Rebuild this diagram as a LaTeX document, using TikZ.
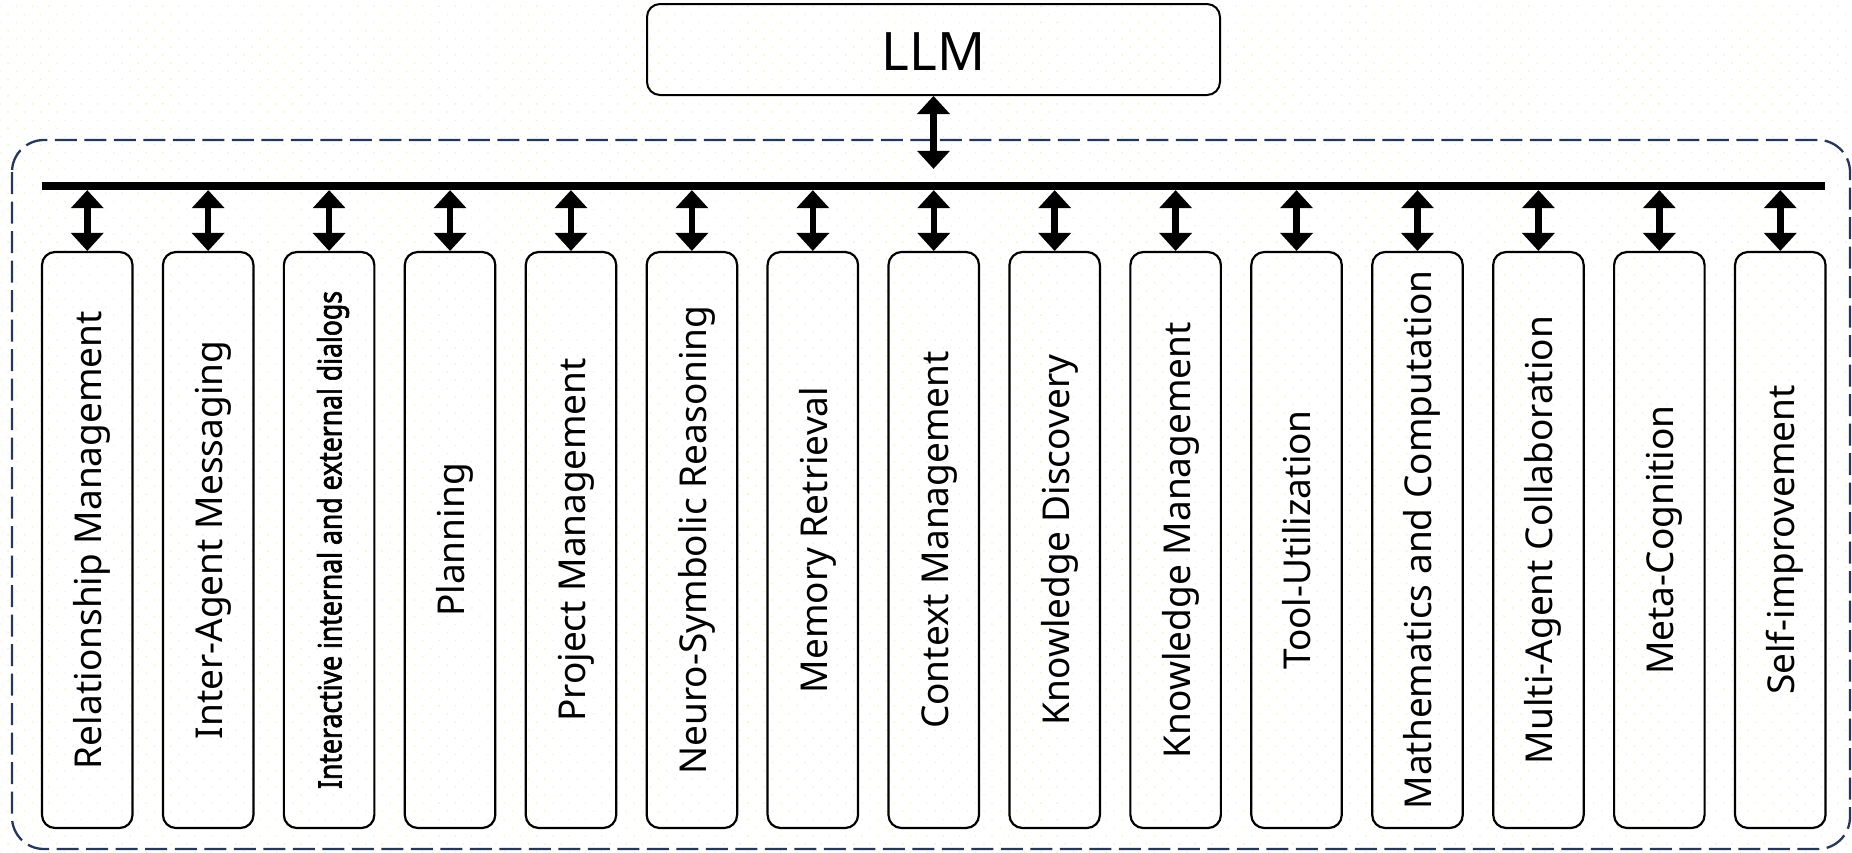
\documentclass[tikz,border=0pt]{standalone}
\usepackage{fontspec}
\setmainfont{Noto Sans}
\newfontfamily\heavylabel{Noto Sans}[FakeBold=2.2]
\usetikzlibrary{arrows.meta,patterns.meta}

\definecolor{framenavy}{RGB}{35,56,96}
\definecolor{dotcol}{RGB}{252,236,192}

\tikzset{
  module/.style={draw=black, line width=2.2pt, rounded corners=13pt,
    minimum width=90.5pt, minimum height=576pt, inner sep=0pt},
  modtext/.style={rotate=90, inner sep=0pt, font=\fontsize{37}{40}\selectfont,
    text height=39.6pt, text depth=10.8pt},
  modtextbold/.style={rotate=90, inner sep=0pt, text height=34pt, text depth=9.4pt},
  llmbox/.style={draw=black, line width=2pt, rounded corners=13pt,
    minimum width=573pt, minimum height=91pt, inner sep=0pt,
    font=\fontsize{53}{56}\selectfont, text height=57pt, text depth=15.5pt},
  busbar/.style={fill=black, minimum width=1783pt, minimum height=8pt, inner sep=0pt},
  link/.style={line width=6.5pt,
    {Triangle[width=33pt,length=18pt,line width=0pt]}-{Triangle[width=33pt,length=18pt,line width=0pt]}},
  agentframe/.style={draw=framenavy, line width=2.3pt, dash pattern=on 22pt off 7.5pt,
    rounded corners=32pt},
}

\begin{document}
\begin{tikzpicture}[x=1pt, y=-1pt]
  % canvas with a faint dotted grid
  \useasboundingbox (0,0) rectangle (1852,852);
  \fill[white] (0,0) rectangle (1852,852);
  \fill[pattern={Dots[distance=11.5pt, angle=45, radius=0.9pt]}, pattern color=dotcol]
    (0,0) rectangle (1852,852);

  % dashed frame around the agent modules
  \draw[agentframe] (12,140) rectangle (1850,849);

  % language model and the shared bus
  \node[llmbox] (llm) at (933.5,49.5) {LLM};
  \node[busbar] (bus) at (933.5,186) {};

  % capability modules
  \foreach \i/\lbl in {0/Relationship Management, 1/Inter-Agent Messaging,
      3/Planning, 4/Project Management, 5/Neuro-Symbolic Reasoning,
      6/Memory Retrieval, 7/Context Management, 8/Knowledge Discovery,
      9/Knowledge Management, 10/Tool-Utilization, 11/Mathematics and Computation,
      12/Multi-Agent Collaboration, 13/Meta-Cognition, 14/Self-improvement} {
    \node[module] (m\i) at ({87.25+120.93*\i},540) {};
    \node[modtext] (t\i) at (m\i.center) {\lbl};
  }
  \node[module] (m2) at ({87.25+120.93*2},540) {};
  \node[modtextbold] (t2) at (m2.center)
    {\resizebox{498pt}{\height}{\fontsize{32}{34}\selectfont\heavylabel Interactive internal and external dialogs}};

  % connectors
  \draw[link, shorten >=13pt] (llm.south) -- (llm.south |- bus.north);
  \foreach \i in {0,...,14} {
    \draw[link] (bus.south -| m\i.north) -- (m\i.north);
  }
\end{tikzpicture}
\end{document}
